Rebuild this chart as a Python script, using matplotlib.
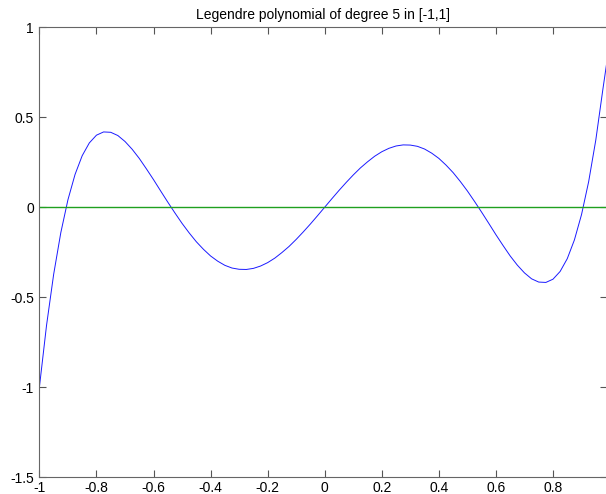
# Legendre polynomial of degree 5
import matplotlib.pyplot as plt

x_vals = [-1.0, -0.975, -0.95, -0.925, -0.9, -0.875, -0.85, -0.825, -0.8, -0.775,
          -0.75, -0.725, -0.7, -0.675, -0.65, -0.625, -0.6, -0.575, -0.55, -0.525,
          -0.5, -0.475, -0.45, -0.425, -0.4, -0.375, -0.35, -0.325, -0.3, -0.275,
          -0.25, -0.225, -0.2, -0.175, -0.15, -0.125, -0.1, -0.075, -0.05, -0.025,
          0.0, 0.025, 0.05, 0.075, 0.1, 0.125, 0.15, 0.175, 0.2, 0.225,
          0.25, 0.275, 0.3, 0.325, 0.35, 0.375, 0.4, 0.425, 0.45, 0.475,
          0.5, 0.525, 0.55, 0.575, 0.6, 0.625, 0.65, 0.675, 0.7, 0.725,
          0.75, 0.775, 0.8, 0.825, 0.85, 0.875, 0.9, 0.925, 0.95, 0.975, 0.99]
y_vals = [-1.0, -0.657, -0.373, -0.142, 0.041, 0.182, 0.286, 0.357, 0.400, 0.418,
          0.416, 0.398, 0.365, 0.322, 0.271, 0.213, 0.153, 0.090, 0.028, -0.032,
          -0.090, -0.143, -0.192, -0.234, -0.271, -0.300, -0.323, -0.338, -0.345, -0.346,
          -0.340, -0.327, -0.308, -0.283, -0.252, -0.218, -0.179, -0.137, -0.093, -0.047,
          0.0, 0.047, 0.093, 0.137, 0.179, 0.218, 0.252, 0.283, 0.308, 0.327,
          0.340, 0.346, 0.345, 0.338, 0.323, 0.300, 0.271, 0.234, 0.192, 0.143,
          0.090, 0.032, -0.028, -0.090, -0.153, -0.213, -0.271, -0.322, -0.365, -0.398,
          -0.416, -0.418, -0.400, -0.357, -0.286, -0.182, -0.041, 0.142, 0.373, 0.657, 0.82]
zero_line = [0.0] * len(x_vals)

x_ticks = [-1, -0.8, -0.6, -0.4, -0.2, 0, 0.2, 0.4, 0.6, 0.8]
x_labels = ['-1', '-0.8', '-0.6', '-0.4', '-0.2', '0', '0.2', '0.4', '0.6', '0.8']
y_ticks = [-1.5, -1, -0.5, 0, 0.5, 1]
y_labels = ['-1.5', '-1', '-0.5', '0', '0.5', '1']

plt.rcParams['font.family'] = ['Liberation Sans', 'DejaVu Sans']

fig = plt.figure(figsize=(6.06, 4.94), dpi=100)
ax = fig.add_axes([0.065, 0.034, 0.937, 0.911])

ax.plot(x_vals, y_vals, color='#1a1aff', linewidth=0.7)
ax.plot(x_vals, zero_line, color='#20a020', linewidth=1.0)

ax.set_xlim(-1, 0.99)
ax.set_ylim(-1.5, 1)
ax.set_xticks(x_ticks)
ax.set_xticklabels(x_labels)
ax.set_yticks(y_ticks)
ax.set_yticklabels(y_labels)
ax.tick_params(direction='in', length=5, width=0.8, color='#555555',
               labelsize=10, top=True, right=True)
ax.tick_params(axis='x', pad=2.5)
ax.tick_params(axis='y', pad=4)
for s in ax.spines.values():
    s.set_color('#666666')
    s.set_linewidth(0.8)

ax.set_title('Legendre polynomial of degree 5 in [-1,1]', fontsize=10, pad=6)

fig.savefig('out.png', dpi=100)
